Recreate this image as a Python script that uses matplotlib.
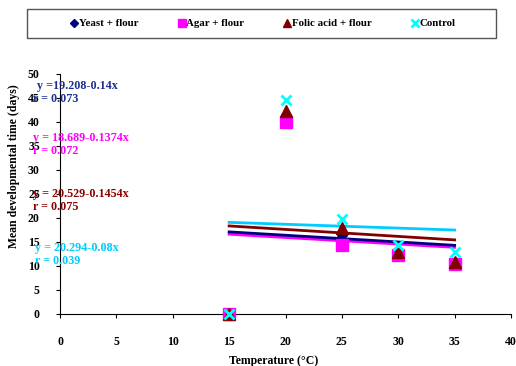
import matplotlib
matplotlib.use("Agg")
import matplotlib.pyplot as plt
from matplotlib.patches import Rectangle
import numpy as np

temps = [15, 20, 25, 30, 35]
yeast = [0, 41.5, 16.5, 12.8, 10.8]
agar = [0, 40.0, 14.3, 12.3, 10.4]
folic = [0, 42.3, 18.0, 13.0, 10.9]
control = [0, 44.6, 19.7, 14.4, 13.0]

series_names = ["Yeast + flour", "Agar + flour", "Folic acid + flour", "Control"]
intercepts = [19.208, 18.689, 20.529, 20.294]
slopes = [-0.14, -0.1374, -0.1454, -0.08]
r_values = ["0.073", "0.072", "0.075", "0.039"]
eq_texts = ["y =19.208-0.14x", "y = 18.689-0.1374x", "y = 20.529-0.1454x", "y = 20.294-0.08x"]

plt.rcParams['font.family'] = ['Liberation Serif', 'DejaVu Serif']
plt.rcParams['font.weight'] = 'bold'

W, H = 516, 366
fig = plt.figure(figsize=(W/100, H/100), dpi=100)
ax = fig.add_axes([60/W, 1-314/H, (511-60)/W, (314-74)/H])

mcolors = ["#000080", "#FF00FF", "#800000", "#00FFFF"]
lcolors = ["#000080", "#FF00FF", "#800000", "#00CCFF"]
tcolors = ["#1F2F8F", "#FF00FF", "#8B0000", "#00CCFF"]
markers = ["D", "s", "^", "x"]
msizes = [5, 8, 8, 7]
data = [yeast, agar, folic, control]

xs = np.array([15, 35])
line_order = [1, 0, 2, 3]
for i in line_order:
    ax.plot(xs, intercepts[i] + slopes[i] * xs, color=lcolors[i], lw=2, zorder=2)

handles = []
for i in range(4):
    h, = ax.plot(temps, data[i], linestyle='none', marker=markers[i], color=mcolors[i],
                 markersize=msizes[i], mew=2 if markers[i] == 'x' else 1, zorder=3 + i,
                 label=series_names[i], clip_on=False)
    handles.append(h)

ax.set_xlim(0, 40)
ax.set_ylim(0, 50)
ax.set_xticks(range(0, 41, 5))
ax.set_yticks(range(0, 51, 5))
ax.spines['top'].set_visible(False)
ax.spines['right'].set_visible(False)
ax.tick_params(axis='x', length=3, pad=13, labelsize=8.5)
ax.tick_params(axis='y', length=3, pad=11.5, labelsize=8.5)
for lab in ax.get_xticklabels() + ax.get_yticklabels():
    lab.set_fontweight('bold')

fig.text(274/W, 1-361/H, "Temperature (°C)", fontsize=8.5, fontweight='bold',
         ha='center', va='center')
fig.text(14/W, 1-166/H, "Mean developmental time (days)", fontsize=8.5, fontweight='bold',
         ha='center', va='center', rotation=90)

eq_pos = [(37, 86), (33, 138), (33, 194), (35, 248)]
for i in range(4):
    x0, y0 = eq_pos[i]
    fig.text(x0/W, 1-y0/H, eq_texts[i], color=tcolors[i], fontsize=8.7,
             fontweight='bold', va='center', ha='left')
    fig.text((33 if i != 3 else 35)/W, 1-(y0+13)/H, "r = " + r_values[i], color=tcolors[i],
             fontsize=8.7, fontweight='bold', va='center', ha='left')

fig.patches.append(Rectangle((27/W, 1-38/H), (496-27)/W, 29/H, transform=fig.transFigure,
                             fill=False, edgecolor='#555555', lw=1))
leg = fig.legend(handles=handles, loc='center', ncol=4,
                 bbox_to_anchor=(263/W, 1-23.5/H),
                 fontsize=7.8, frameon=False, handlelength=0.7,
                 handletextpad=0.1, borderaxespad=0, columnspacing=3.6, markerscale=0.75)
for t in leg.get_texts():
    t.set_fontweight('bold')

fig.savefig("out.png", dpi=100)
